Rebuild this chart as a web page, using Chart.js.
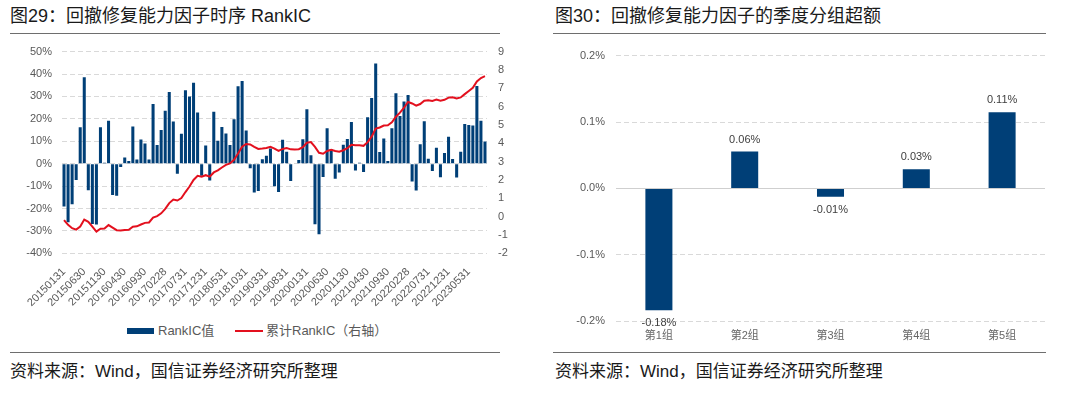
<!DOCTYPE html>
<html>
<head>
<meta charset="utf-8">
<script src="https://cdn.jsdelivr.net/npm/chart.js@4.4.1/dist/chart.umd.min.js"></script>
<style>
    body {
        margin: 0;
        width: 1080px;
        height: 395px;
        background: #fff;
        position: relative;
        overflow: hidden;
        font-family: 'Liberation Sans', 'Noto Sans CJK SC', sans-serif;
    }
    .title { position: absolute; top: 4px; font-size: 18px; line-height: 24px; color: #1a1a1a; white-space: nowrap; }
    .source { position: absolute; top: 360px; font-size: 17px; line-height: 24px; color: #1a1a1a; white-space: nowrap; }
    .rule { position: absolute; height: 0; border-top: 1.5px solid #6e6e6e; }
    .legend-text { position: absolute; top: 323px; font-size: 13px; line-height: 16px; color: #595959; white-space: nowrap; }
    .chart-box { position: absolute; }
</style>
</head>
<body>

<div class="title" style="left:10px;">图29：回撤修复能力因子时序 RankIC</div>
<div class="title" style="left:555px;">图30：回撤修复能力因子的季度分组超额</div>
<div class="rule" style="left:10px; top:33px; width:490px;"></div>
<div class="rule" style="left:553px; top:33px; width:493px;"></div>

<div class="chart-box" style="left:0; top:34px; width:510px; height:286px;">
    <canvas id="RankICChart" width="510" height="286"></canvas>
</div>
<div class="chart-box" style="left:540px; top:38px; width:520px; height:312px;">
    <canvas id="GroupChart" width="520" height="312"></canvas>
</div>

<!-- legend of the left chart -->
<div style="position:absolute; left:127px; top:328px; width:27px; height:6px; background:#003f77;"></div>
<div class="legend-text" style="left:158px;">RankIC值</div>
<div style="position:absolute; left:235px; top:330px; width:28px; height:2px; background:#e3101e;"></div>
<div class="legend-text" style="left:266px;">累计RankIC（右轴）</div>

<div class="rule" style="left:10px; top:352px; width:490px;"></div>
<div class="rule" style="left:553px; top:352px; width:493px;"></div>
<div class="source" style="left:10px;">资料来源：Wind，国信证券经济研究所整理</div>
<div class="source" style="left:555px;">资料来源：Wind，国信证券经济研究所整理</div>

<script>
// month end dates
const months = [
    "20150131", "20150228", "20150331", "20150430", "20150531", "20150630", "20150731", "20150831", "20150930", "20151031", "20151130", "20151231",
    "20160131", "20160229", "20160331", "20160430", "20160531", "20160630", "20160731", "20160831", "20160930", "20161031", "20161130", "20161231",
    "20170131", "20170228", "20170331", "20170430", "20170531", "20170630", "20170731", "20170831", "20170930", "20171031", "20171130", "20171231",
    "20180131", "20180228", "20180331", "20180430", "20180531", "20180630", "20180731", "20180831", "20180930", "20181031", "20181130", "20181231",
    "20190131", "20190228", "20190331", "20190430", "20190531", "20190630", "20190731", "20190831", "20190930", "20191031", "20191130", "20191231",
    "20200131", "20200229", "20200331", "20200430", "20200531", "20200630", "20200731", "20200831", "20200930", "20201031", "20201130", "20201231",
    "20210131", "20210228", "20210331", "20210430", "20210531", "20210630", "20210731", "20210831", "20210930", "20211031", "20211130", "20211231",
    "20220131", "20220228", "20220331", "20220430", "20220531", "20220630", "20220731", "20220831", "20220930", "20221031", "20221130", "20221231",
    "20230131", "20230228", "20230331", "20230430", "20230531", "20230630", "20230731", "20230831", "20230930"
];

// monthly RankIC in %
const rankIC = [
    -19.1, -26.2, -18.1, -7.3, 16.3, 38.5, -11.9, -26.9, -27.2, 16.3, 0.4, 19.2,
    -14.0, -14.3, -1.5, 2.7, 1.2, 16.6, 1.9, 10.8, 9.0, 1.8, 26.6, 8.3,
    15.0, 23.6, 32.0, 18.8, -4.5, 13.3, 32.8, 30.0, 36.1, 22.8, -5.4, 8.1,
    -7.5, 23.2, 10.2, 16.4, 13.5, 8.3, 19.8, 34.5, 36.9, 14.8, -2.0, -12.9,
    -12.2, 2.0, 3.5, 6.8, -10.1, -12.6, 10.7, 5.3, -7.7, -0.3, 1.6, 10.9,
    24.3, 3.8, -27.0, -31.5, -5.9, 15.8, 6.4, -6.7, -4.0, 8.4, 11.0, 18.6,
    -3.0, 0.4, -3.7, 20.7, 29.3, 44.7, 5.2, 11.2, 1.2, 15.8, 31.4, 21.3,
    27.7, 30.6, -8.0, -12.0, 8.7, 18.9, 2.2, -3.3, 7.1, -6.1, 4.7, 12.0,
    2.1, -6.2, 5.3, 17.7, 17.2, 17.0, 34.6, 19.2, 9.9
];

// cumulative RankIC (right axis)
const cumRankIC = [
    -0.19, -0.45, -0.63, -0.71, -0.54, -0.16, -0.28, -0.55, -0.82, -0.66, -0.65, -0.46,
    -0.60, -0.74, -0.76, -0.73, -0.72, -0.55, -0.53, -0.43, -0.34, -0.32, -0.05, 0.03,
    0.18, 0.42, 0.74, 0.93, 0.88, 1.01, 1.34, 1.64, 2.00, 2.23, 2.18, 2.26,
    2.18, 2.41, 2.52, 2.68, 2.82, 2.90, 3.10, 3.44, 3.81, 3.96, 3.94, 3.81,
    3.69, 3.71, 3.74, 3.81, 3.71, 3.58, 3.69, 3.74, 3.67, 3.66, 3.68, 3.79,
    4.03, 4.07, 3.80, 3.48, 3.43, 3.58, 3.65, 3.58, 3.54, 3.62, 3.73, 3.92,
    3.89, 3.89, 3.86, 4.06, 4.36, 4.80, 4.86, 4.97, 4.98, 5.14, 5.45, 5.67,
    5.94, 6.25, 6.17, 6.05, 6.14, 6.32, 6.35, 6.31, 6.38, 6.32, 6.37, 6.49,
    6.51, 6.45, 6.50, 6.68, 6.85, 7.02, 7.37, 7.56, 7.66
];

// quarterly group excess return in %
const groups = ["第1组", "第2组", "第3组", "第4组", "第5组"];
const groupExcess = [-0.1835, 0.0555, -0.0125, 0.029, 0.1146];

const barBlue = "#003f77";
const lineRed = "#e3101e";
const tickGrey = "#595959";
const gridGrey = "#d9d9d9";

Chart.defaults.font.family = "'Liberation Sans', 'Noto Sans CJK SC', sans-serif";
Chart.defaults.font.size = 11;
Chart.defaults.color = tickGrey;

// left chart: RankIC bars + cumulative line
new Chart(document.getElementById("RankICChart").getContext("2d"), {
    type: "bar",
    data: {
        labels: months,
        datasets: [
            {
                type: "line",
                label: "累计RankIC（右轴）",
                data: cumRankIC,
                yAxisID: "y1",
                borderColor: lineRed,
                borderWidth: 2,
                pointRadius: 0,
                tension: 0,
                order: 0
            },
            {
                label: "RankIC值",
                data: rankIC,
                yAxisID: "y",
                backgroundColor: barBlue,
                borderWidth: 0,
                barPercentage: 0.75,
                categoryPercentage: 1,
                order: 1
            }
        ]
    },
    options: {
        responsive: false,
        animation: false,
        layout: { padding: 0 },
        plugins: {
            legend: { display: false },
            tooltip: { enabled: false }
        },
        scales: {
            x: {
                grid: { display: false },
                border: { display: false },
                ticks: {
                    autoSkip: false,
                    minRotation: 45,
                    maxRotation: 45,
                    padding: 4,
                    color: tickGrey,
                    callback: function (value, index) {
                        return index % 5 === 0 ? this.getLabelForValue(value) : "";
                    }
                },
                afterFit: (scale) => { scale.height = 66.7; }
            },
            y: {
                position: "left",
                min: -40,
                max: 50,
                grid: { color: gridGrey, drawTicks: false },
                border: { display: false, dash: [5, 3] },
                ticks: { stepSize: 10, padding: 10, color: tickGrey, callback: (v) => v + "%" },
                afterFit: (scale) => { scale.width = 62; }
            },
            y1: {
                position: "right",
                min: -2,
                max: 9,
                grid: { drawOnChartArea: false, drawTicks: false },
                border: { display: false },
                ticks: { stepSize: 1, padding: 11, color: tickGrey },
                afterFit: (scale) => { scale.width = 23; }
            }
        }
    }
});

// value labels above / below the group bars
const groupLabels = {
    id: "groupLabels",
    afterDatasetsDraw(chart) {
        const ctx = chart.ctx;
        const meta = chart.getDatasetMeta(0);
        ctx.save();
        ctx.font = "11px 'Liberation Sans', sans-serif";
        ctx.fillStyle = "#404040";
        ctx.textAlign = "center";
        ctx.textBaseline = "middle";
        meta.data.forEach((bar, i) => {
            const v = groupExcess[i];
            const y = v >= 0 ? bar.y - 12 : bar.y + 13;
            ctx.fillText(v.toFixed(2) + "%", bar.x, y);
        });
        ctx.restore();
    }
};

// right chart: group excess
new Chart(document.getElementById("GroupChart").getContext("2d"), {
    type: "bar",
    data: {
        labels: groups,
        datasets: [
            {
                label: "超额",
                data: groupExcess,
                backgroundColor: barBlue,
                borderWidth: 0,
                barPercentage: 0.315,
                categoryPercentage: 1
            }
        ]
    },
    plugins: [groupLabels],
    options: {
        responsive: false,
        animation: false,
        layout: { padding: { top: 0, right: 15, left: 0, bottom: 0 } },
        plugins: {
            legend: { display: false },
            tooltip: { enabled: false }
        },
        scales: {
            x: {
                grid: { display: false },
                border: { display: false },
                ticks: { padding: 0, color: "#666", font: { size: 11 } },
                afterFit: (scale) => { scale.height = 28.7; }
            },
            y: {
                min: -0.2,
                max: 0.2,
                grid: {
                    drawTicks: false,
                    color: (ctx) => (ctx.tick && Math.abs(ctx.tick.value) < 1e-9 ? "#cfcfcf" : gridGrey)
                },
                border: {
                    display: false,
                    dash: (ctx) => (ctx.tick && Math.abs(ctx.tick.value) < 1e-9 ? [] : [5, 3])
                },
                ticks: { stepSize: 0.1, padding: 11, color: tickGrey, callback: (v) => v.toFixed(1) + "%" },
                afterFit: (scale) => { scale.width = 76; }
            }
        }
    }
});
</script>
</body>
</html>
